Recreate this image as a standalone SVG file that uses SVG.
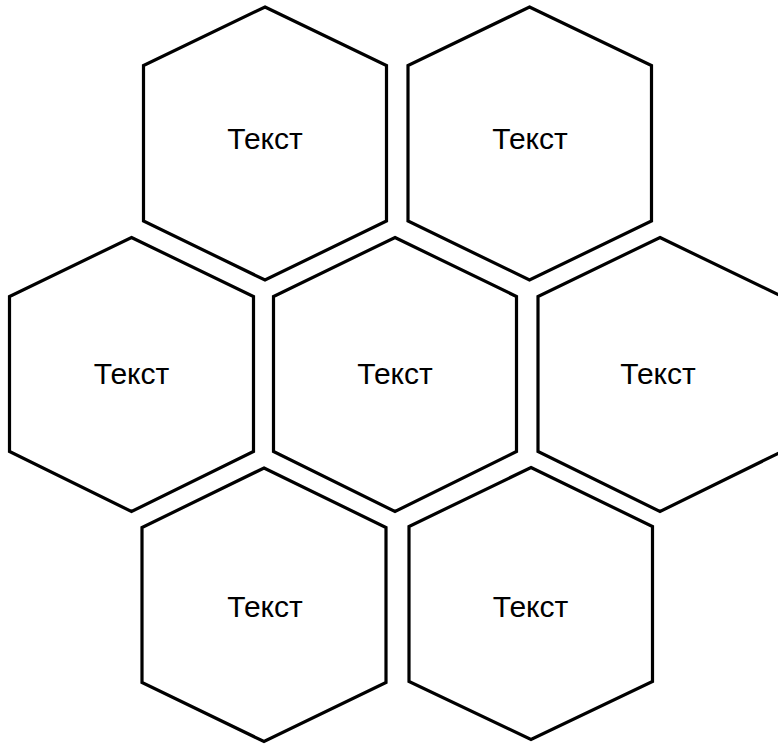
<svg xmlns="http://www.w3.org/2000/svg" width="778" height="744" viewBox="0 0 778 744">
<style>
.hex{fill:#ffffff;stroke:#000000;stroke-width:3.2;stroke-linejoin:miter}
.lbl{font-family:"Liberation Sans",Arial,sans-serif;font-size:30px;fill:#000000;text-anchor:middle}
</style>
<rect width="778" height="744" fill="#ffffff"/>
<g id="connectors"></g>
<g id="hex1"><polygon class="hex" points="265,7 386.5,65.5 386.5,221 265,280 143.5,221 143.5,65.5"/><text class="lbl" x="265" y="149">Текст</text></g>
<g id="hex2"><polygon class="hex" points="529.5,7 651.5,65.5 651.5,221 529.5,280 408,221 408,65.5"/><text class="lbl" x="530" y="149">Текст</text></g>
<g id="hex3"><polygon class="hex" points="131.5,237.5 253.5,296.5 253.5,451.5 131.5,511.5 9.5,451.5 9.5,296.5"/><text class="lbl" x="131.5" y="383.5">Текст</text></g>
<g id="hex4"><polygon class="hex" points="395,237.5 516.5,296.5 516.5,451.5 395,511.5 273.5,451.5 273.5,296.5"/><text class="lbl" x="395" y="384">Текст</text></g>
<g id="hex5"><polygon class="hex" points="660,237.5 782,296.5 782,451.5 660,511.5 538,451.5 538,296.5"/><text class="lbl" x="658" y="383.5">Текст</text></g>
<g id="hex6"><polygon class="hex" points="264,468 386,527.5 386,682.5 264,741.5 142,682.5 142,527.5"/><text class="lbl" x="265" y="616.5">Текст</text></g>
<g id="hex7"><polygon class="hex" points="531,467.5 652.5,526.5 652.5,681.5 531,739.5 409,681.5 409,526.5"/><text class="lbl" x="530.5" y="616.5">Текст</text></g>
</svg>
